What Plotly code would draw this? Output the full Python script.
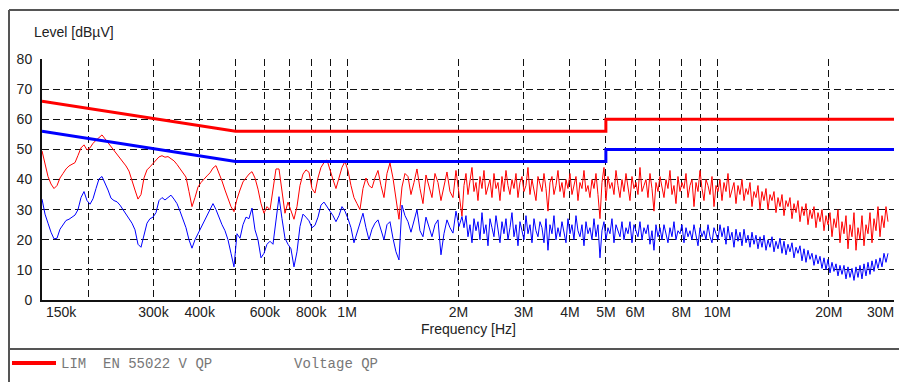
import numpy as np
import plotly.graph_objects as go

# ---------------- data ----------------
# limit lines (EN 55022 conducted, voltage)
lim_hz = [150e3, 500e3, 5e6, 5e6, 30e6]
lim_qp = [66, 56, 56, 60, 60]
lim_av = [56, 46, 46, 50, 50]

# receiver scan: coarse sweep 150 kHz - 2.04 MHz, fine sweep 2.07 - 28.9 MHz
scan_lo_hz = np.logspace(np.log10(150e3), np.log10(2.0433e6), 141)
scan_hi_hz = np.logspace(np.log10(2.0689e6), np.log10(28.90e6), 213)

red_lo = [
    49.5, 45, 41, 38.5, 37, 38, 40.5, 42, 43.5, 44.5,
    45, 45.6, 48, 50.5, 51.5, 49.8, 50.5, 52, 53, 54,
    54.8, 53.5, 52.2, 51.2, 50, 48.6, 47.2, 46, 44.5, 42.8,
    40, 36.5, 33.5, 35, 40.5, 43.2, 44.2, 45.3, 46.5, 47.5,
    47.9, 47.4, 47.6, 46.8, 46.2, 45, 43.7, 42.3, 40.8, 36,
    31, 34, 37.5, 39, 40.2, 41.2, 42.2, 43.8, 44.6, 42.2,
    39.5, 36.5, 33.5, 31, 29.3, 33.5, 36.5, 39.2, 40.5, 41.8,
    42.6, 40.5, 36.8, 32, 28.8, 31, 29.9, 37.5, 43.5, 43.5,
    35.5, 28.8, 32.5, 29.5, 26.8, 31, 38, 41.8, 43.2, 42.4,
    37, 35.5, 40.5, 44, 45.6, 46.5, 43, 40, 37, 40.5,
    44, 46, 43, 38, 34, 32, 30, 37, 40.5, 38,
    37.2, 40.5, 43, 38, 34, 42, 45.5, 40.5, 33, 26.8,
    37.5, 42, 41, 35, 39, 43.5, 37, 32, 41.5, 38,
    34, 42, 39, 33, 38, 42.5, 36, 34, 43, 36,
    27.8,
]
red_hi = [
    38, 42, 35, 40, 44, 36, 39, 33, 41, 37,
    43, 35, 38, 40, 34, 42, 37, 39, 33, 41,
    36, 43, 38, 35, 40, 37, 42, 34, 39, 41,
    36, 38, 44, 35, 40, 37, 33, 41, 38, 36,
    42, 37, 29.5, 39, 41, 35, 38, 43, 36, 39,
    34, 40, 37, 42, 35, 38, 41, 33, 39, 37,
    43, 36, 38, 34, 40, 37, 42, 35, 27, 39,
    44, 33, 41, 37, 39, 35, 43, 38, 34, 40,
    36, 42, 38, 33, 41, 37, 39, 35, 44, 36,
    38, 40, 34, 42, 37, 29.5, 39, 36, 41, 38,
    34, 40, 37, 43, 35, 38, 32, 41, 36, 39,
    37, 42, 34, 38, 40, 31, 39, 36, 43, 37,
    33, 40, 38, 35, 41, 31, 38, 36, 40, 33,
    39, 36, 42, 34, 37, 39, 32, 38, 35, 40,
    33, 37, 35, 39, 31, 36, 34, 38, 30, 36,
    33, 37, 30, 35, 33, 36, 29, 34, 31, 35,
    28, 33, 31, 34, 27, 32, 29, 33, 26, 31,
    28, 32, 25, 30, 27, 31, 24, 29, 26, 30,
    23, 28, 25, 29, 21, 27, 24, 30, 19, 26,
    22, 28, 17, 25, 21, 29, 16.5, 24, 20, 28,
    18, 25, 22, 29, 19, 27, 23, 31, 21, 28,
    24, 31, 26,
]

blue_lo = [
    33.5, 28.5, 25.5, 22.5, 20.3, 20.5, 23.5, 25, 26.4, 26.8,
    27.5, 28.2, 30, 34, 36, 33, 31.8, 33.6, 37, 40.2,
    41, 39, 36.5, 33.8, 33, 32.6, 31.5, 30, 28.5, 27,
    25.5, 23.3, 18.5, 17.5, 22, 25.5, 27, 27.5, 29, 33,
    34, 33.2, 34, 34.8, 33.5, 32, 29.5, 27, 24, 20,
    17.2, 20, 22, 24, 25.8, 27.5, 29.5, 32, 30, 27.3,
    25, 23, 20, 15.5, 11, 22, 20.5, 25, 27.5, 27,
    30.5, 23.3, 20, 14, 15.5, 18.5, 19.5, 18.5, 26.5, 34.3,
    27, 20.5, 18.5, 17, 11, 16, 24.4, 28.5, 27.5, 26.3,
    24, 24.8, 27.5, 31.5, 32.5, 31, 29.5, 28, 26, 28,
    31, 29.5, 27, 24, 19, 22.5, 26, 28.8, 24, 20,
    23.5, 25.5, 26.6, 23, 20, 25, 26, 20.5, 16, 13.3,
    31.5, 28, 26, 22.5, 26.5, 30, 23, 21, 27.5, 24,
    21, 25, 26.6, 15, 22, 26.6, 24, 22.2, 29.5, 24.4,
    27.7,
]
blue_hi = [
    24, 28, 21, 25, 19, 27, 23, 26, 20, 29,
    22, 25, 18, 27, 24, 21, 28, 23, 19, 26,
    22, 27, 20, 24, 29, 21, 25, 18, 26, 23,
    20, 28, 22, 25, 19, 27, 23, 21, 26, 24,
    19, 27, 16.5, 25, 22, 28, 20, 24, 21, 26,
    23, 19, 27, 22, 25, 20, 28, 23, 21, 25,
    18, 26, 22, 24, 20, 27, 21, 25, 14, 23,
    26, 20, 24, 22, 27, 19, 25, 23, 21, 26,
    20, 24, 22, 26, 19, 25, 23, 21, 26, 20,
    24, 22, 25, 18.5, 23, 16.5, 25, 21, 24, 20,
    25, 22, 19, 24, 21, 26, 20, 23, 22, 25,
    19, 24, 21, 23, 20, 25, 22, 18, 24, 21,
    23, 20, 25, 21, 19, 24, 22, 20, 25, 21,
    24, 18.5, 24.5, 20, 22.5, 17.5, 23.5, 19.5, 22.5, 18,
    23.5, 19, 21.5, 17.5, 22.5, 18.5, 21.5, 17, 21, 17.5,
    21.5, 16.5, 20, 17.5, 21, 16, 19.5, 17, 20.5, 15.5,
    19.5, 15, 18.5, 16, 19, 14, 17.5, 15.5, 18, 13,
    17, 12.5, 16.5, 13.5, 15.5, 11.5, 15, 12, 14.5, 10.5,
    14, 10, 13.5, 9, 12.5, 9.5, 12, 8, 11.5, 8.5,
    11.5, 7, 11, 7.5, 10.5, 6.5, 11, 7.5, 11.5, 7,
    12, 8, 12.5, 8.5, 13, 9.5, 13.5, 10.5, 14, 11,
    15.5, 12.5, 15.5,
]

grid_hz = [2e5, 3e5, 4e5, 5e5, 6e5, 7e5, 8e5, 9e5, 1e6,
           2e6, 3e6, 4e6, 5e6, 6e6, 7e6, 8e6, 9e6, 1e7, 2e7, 3e7]
grid_txt = ['', '300k', '400k', '', '600k', '', '800k', '', '1M',
            '2M', '3M', '4M', '5M', '6M', '', '8M', '', '10M', '20M', '']
y_ticks = [0, 10, 20, 30, 40, 50, 60, 70, 80]

# ---------------- figure ----------------
L, R, T, B = 42, 894, 59, 300
W, H = 899, 382


def px(x):
    return (x - L) / (R - L)


def py(y):
    return (B - y) / (B - T)


scan_hz = np.concatenate([scan_lo_hz, scan_hi_hz])
red = red_lo + red_hi
blue = blue_lo + blue_hi

fig = go.Figure()
fig.add_trace(go.Scatter(x=scan_hz, y=red, mode='lines',
                         line=dict(color='#ff0000', width=1)))
fig.add_trace(go.Scatter(x=scan_hz, y=blue, mode='lines',
                         line=dict(color='#0000ff', width=1)))
fig.add_trace(go.Scatter(x=lim_hz, y=lim_qp, mode='lines',
                         line=dict(color='#ff0000', width=3)))
fig.add_trace(go.Scatter(x=lim_hz, y=lim_av, mode='lines',
                         line=dict(color='#0000ff', width=3)))

dash = '7px,4px'
fig.update_xaxes(type='log', range=[np.log10(150e3), np.log10(30e6)],
                 tickmode='array', tickvals=grid_hz, ticktext=grid_txt,
                 showgrid=True, gridcolor='#111', gridwidth=1, griddash=dash,
                 showline=True, linecolor='#111', linewidth=2, ticks='',
                 zeroline=False, tickfont=dict(size=14, color='#222'),
                 ticklabelstandoff=-2, automargin=False)
fig.update_yaxes(range=[0, 80], tickmode='array', tickvals=y_ticks,
                 showgrid=True, gridcolor='#111', gridwidth=1, griddash=dash,
                 showline=True, linecolor='#111', linewidth=2, ticks='',
                 zeroline=False, tickfont=dict(size=14, color='#222'),
                 ticklabelstandoff=5, automargin=False)

frame = '#555'
shapes = [
    dict(type='line', xref='paper', yref='paper', x0=px(9), x1=px(905), y0=py(10), y1=py(10),
         line=dict(color=frame, width=2)),
    dict(type='line', xref='paper', yref='paper', x0=px(9), x1=px(9), y0=py(10), y1=py(390),
         line=dict(color=frame, width=2)),
    dict(type='line', xref='paper', yref='paper', x0=px(9), x1=px(905), y0=py(349), y1=py(349),
         line=dict(color=frame, width=2)),
    dict(type='line', xref='paper', yref='paper', x0=px(12), x1=px(56), y0=py(363), y1=py(363),
         line=dict(color='#ff0000', width=4)),
]

sans = 'Liberation Sans, Arial, sans-serif'
mono = 'Liberation Mono, Courier New, monospace'
ann = [
    dict(text='Level [dBµV]', x=px(32), y=py(32), xanchor='left', yanchor='middle',
         font=dict(family=sans, size=14, color='#222')),
    dict(text='Frequency [Hz]', x=px(469), y=py(329), xanchor='center', yanchor='middle',
         font=dict(family=sans, size=14, color='#222')),
    dict(text='150k', x=px(44), y=py(312), xanchor='left', yanchor='middle',
         font=dict(family=sans, size=14, color='#222')),
    dict(text='30M', x=px(896), y=py(312), xanchor='right', yanchor='middle',
         font=dict(family=sans, size=14, color='#222')),
    dict(text='LIM\u00a0\u00a0EN 55022 V QP', x=px(59), y=py(364), xanchor='left', yanchor='middle',
         font=dict(family=mono, size=14, color='#777')),
    dict(text='Voltage QP', x=px(292), y=py(364), xanchor='left', yanchor='middle',
         font=dict(family=mono, size=14, color='#777')),
]
for a in ann:
    a.update(xref='paper', yref='paper', showarrow=False)

fig.update_layout(width=W, height=H, margin=dict(l=L, r=W - R, t=T, b=H - B),
                  paper_bgcolor='white', plot_bgcolor='white', showlegend=False,
                  font=dict(family=sans, size=14, color='#222'),
                  shapes=shapes, annotations=ann)

fig.write_html('out.html', config={'displayModeBar': False, 'staticPlot': True})

# remove the browser's default page margin so the figure sits at the window origin
with open('out.html', encoding='utf-8') as fh:
    page = fh.read()
page = page.replace('<head>', '<head><style>html,body{margin:0;padding:0;overflow:hidden;}</style>', 1)
with open('out.html', 'w', encoding='utf-8') as fh:
    fh.write(page)
